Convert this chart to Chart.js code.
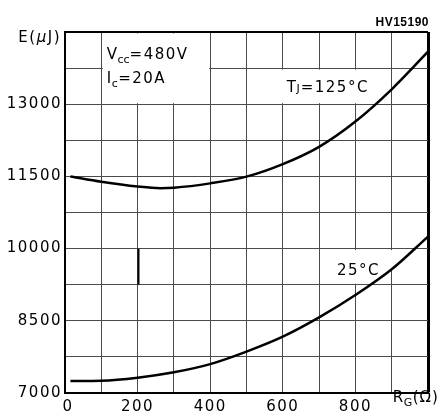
<!DOCTYPE html>
<html>
<head>
<meta charset="utf-8">
<script src="https://cdn.jsdelivr.net/npm/chart.js@4.4.1/dist/chart.umd.min.js"></script>
<style>
  html, body { margin: 0; padding: 0; background: #fff; }
</style>
</head>
<body>
<canvas id="chart" width="443" height="416"></canvas>
<script>
// Eoff vs gate resistance, two junction temperatures
const rgHot       = [15, 100, 200, 262, 300, 400, 500, 600, 700, 800, 900, 1000];
const energyHot   = [11500, 11390, 11290, 11255, 11265, 11355, 11495, 11755, 12115, 12640, 13310, 14090];
const rgCold      = [15, 100, 200, 300, 400, 500, 600, 700, 800, 900, 1000];
const energyCold  = [7250, 7256, 7318, 7430, 7600, 7860, 8170, 8570, 9035, 9570, 10250];

const xTickValues = [0, 200, 400, 600, 800];
const yTickValues = [7000, 8500, 10000, 11500, 13000];

const X_MIN = 0, X_MAX = 1000, X_STEP = 100;
const Y_MIN = 7000, Y_MAX = 14500, Y_STEP = 750;

const FONT = '"DejaVu Sans", sans-serif';
const GRID = '#4a4a4a';

function toPoints(xs, ys) {
    return xs.map((x, i) => ({ x: x, y: ys[i] }));
}

function setRunFont(ctx, r) {
    ctx.font = (r.style || '') + ' ' + r.size + 'px ' + FONT;
    ctx.letterSpacing = (r.ls ?? 1.5) + 'px';
}

// draws a string made of runs (for subscripts), left to right
function drawRuns(ctx, x, y, runs) {
    let cx = x;
    for (const r of runs) {
        setRunFont(ctx, r);
        ctx.fillText(r.t, cx, y + (r.dy || 0));
        cx += ctx.measureText(r.t).width;
    }
    ctx.letterSpacing = '1.5px';
    return cx;
}

function runsWidth(ctx, runs) {
    let w = 0;
    for (const r of runs) {
        setRunFont(ctx, r);
        w += ctx.measureText(r.t).width;
    }
    ctx.letterSpacing = '1.5px';
    return w;
}

const panelText = {
    id: 'panelText',
    beforeDraw(chart) {
        chart.ctx.letterSpacing = '1.5px';
    },
    beforeDatasetsDraw(chart) {
        const { ctx, scales: { x, y } } = chart;
        const px = v => x.getPixelForValue(v);
        const py = v => y.getPixelForValue(v);

        ctx.save();
        // clear the grid under the text blocks
        ctx.fillStyle = '#fff';
        const blank = (x0, x1, y0, y1) => {
            ctx.fillRect(x0, y0, x1 - x0, y1 - y0);
        };
        blank(px(100) + 1.5, px(400) - 1, py(Y_MAX) + 1.5, py(13000) - 1);
        blank(px(600) - 1, px(900) - 1, py(13750) + 1.5, py(13000) - 1);
        blank(px(700) + 1.5, px(900) + 1.5, py(10000) + 1.5, py(9560));
        blank(px(700) + 1.5, px(900) - 1, py(9560) - 1, py(9250) - 1);

        // heavier segment on the 200 line
        ctx.strokeStyle = '#000';
        ctx.lineWidth = 2;
        ctx.beginPath();
        ctx.moveTo(Math.round(px(200)) + 0.5, py(10000));
        ctx.lineTo(Math.round(px(200)) + 0.5, py(9250));
        ctx.stroke();

        ctx.fillStyle = '#000';
        ctx.textAlign = 'left';
        ctx.textBaseline = 'alphabetic';

        // test conditions
        drawRuns(ctx, px(115), py(13929), [
            { t: 'V', size: 15, ls: 0.5 }, { t: 'cc', size: 11, dy: 4, ls: 0 }, { t: '=480V', size: 15 }
        ]);
        drawRuns(ctx, px(115), py(13435), [
            { t: 'I', size: 15, ls: 0.5 }, { t: 'c', size: 11, dy: 4, ls: 0.5 }, { t: '=20A', size: 15 }
        ]);

        // curve labels
        drawRuns(ctx, px(611), py(13262), [
            { t: 'T', size: 15, ls: 0.5 }, { t: 'J', size: 11, ls: 1 }, { t: '=125°C', size: 15 }
        ]);
        drawRuns(ctx, px(749), py(9452), [{ t: '25°C', size: 15 }]);

        // axis titles
        const eRuns = [
            { t: 'E(', size: 15 }, { t: 'μ', size: 15, style: 'italic' }, { t: 'J)', size: 15 }
        ];
        drawRuns(ctx, x.left - 4 - runsWidth(ctx, eRuns), y.top + 10, eRuns);
        drawRuns(ctx, px(903), y.bottom + 9, [
            { t: 'R', size: 15, ls: 0.5 }, { t: 'G', size: 11, dy: 4, ls: 0.5 }, { t: '(Ω)', size: 15, ls: 1 }
        ]);

        // figure code
        ctx.letterSpacing = '0.5px';
        ctx.font = 'bold 12px "Liberation Sans", Arial, sans-serif';
        ctx.textAlign = 'right';
        ctx.fillText('HV15190', x.right + 1, y.top - 6);
        ctx.restore();
    }
};

const ctx = document.getElementById('chart').getContext('2d');

const chart = new Chart(ctx, {
    type: 'line',
    data: {
        datasets: [{
            label: 'Tj = 125°C',
            data: toPoints(rgHot, energyHot),
            borderColor: '#000',
            borderWidth: 2.5,
            pointRadius: 0,
            fill: false,
            cubicInterpolationMode: 'monotone'
        }, {
            label: 'Tj = 25°C',
            data: toPoints(rgCold, energyCold),
            borderColor: '#000',
            borderWidth: 2.5,
            pointRadius: 0,
            fill: false,
            cubicInterpolationMode: 'monotone'
        }]
    },
    options: {
        responsive: false,
        animation: false,
        devicePixelRatio: 1,
        layout: {
            padding: { top: 32, right: 15, left: 0, bottom: 0 }
        },
        scales: {
            x: {
                type: 'linear',
                min: X_MIN,
                max: X_MAX,
                afterFit: scale => { scale.height = 23; },
                ticks: {
                    stepSize: X_STEP,
                    autoSkip: false,
                    maxRotation: 0,
                    padding: 5,
                    color: '#000',
                    font: { family: FONT, size: 15 },
                    callback: function(value) {
                        if (!xTickValues.includes(value)) return '';
                        return value === 0 ? ' 0' : String(value);
                    }
                },
                grid: {
                    drawTicks: false,
                    color: c => (c.tick && (c.tick.value === X_MAX || c.tick.value === X_MIN)) ? '#000' : GRID,
                    lineWidth: c => (c.tick && c.tick.value === X_MAX) ? 3 : 1
                },
                border: { color: '#000', width: 2 }
            },
            y: {
                type: 'linear',
                min: Y_MIN,
                max: Y_MAX,
                afterFit: scale => { scale.width = 65; },
                ticks: {
                    stepSize: Y_STEP,
                    autoSkip: false,
                    padding: 3,
                    color: '#000',
                    font: { family: FONT, size: 15 },
                    callback: function(value) {
                        return yTickValues.includes(value) ? String(value) : '';
                    }
                },
                grid: {
                    drawTicks: false,
                    color: c => (c.tick && (c.tick.value === Y_MAX || c.tick.value === Y_MIN)) ? '#000' : GRID,
                    lineWidth: c => (c.tick && c.tick.value === Y_MAX) ? 2 : 1
                },
                border: { color: '#000', width: 2 }
            }
        },
        plugins: {
            legend: { display: false },
            tooltip: { enabled: false }
        }
    },
    plugins: [panelText]
});
</script>
</body>
</html>
